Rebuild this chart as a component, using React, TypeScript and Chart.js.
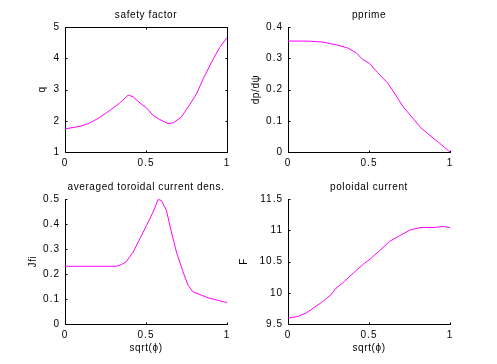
import React, { useEffect, useRef } from "react";
import { Chart, registerables } from "chart.js";

Chart.register(...registerables);

// ---------- data ----------
const qX = [0, 0.092, 0.154, 0.215, 0.277, 0.338, 0.39, 0.42, 0.451, 0.503, 0.544, 0.585, 0.636, 0.667, 0.718, 0.77, 0.81, 0.851, 0.913, 0.954, 1.0];
const qY = [1.74, 1.82, 1.93, 2.11, 2.33, 2.57, 2.82, 2.77, 2.62, 2.41, 2.17, 2.04, 1.91, 1.93, 2.12, 2.52, 2.84, 3.32, 3.96, 4.34, 4.66];

const ppX = [0, 0.121, 0.214, 0.307, 0.368, 0.42, 0.461, 0.502, 0.553, 0.615, 0.656, 0.708, 0.759, 0.821, 0.883, 0.934, 1.0];
const ppY = [0.355, 0.355, 0.352, 0.342, 0.333, 0.318, 0.296, 0.284, 0.254, 0.221, 0.189, 0.147, 0.115, 0.077, 0.05, 0.029, 0.0];

const jX = [0, 0.318, 0.349, 0.376, 0.421, 0.462, 0.503, 0.544, 0.575, 0.595, 0.626, 0.657, 0.688, 0.729, 0.76, 0.79, 0.832, 0.883, 0.955, 1.0];
const jY = [0.231, 0.231, 0.238, 0.248, 0.288, 0.341, 0.394, 0.448, 0.498, 0.494, 0.454, 0.368, 0.288, 0.208, 0.155, 0.129, 0.118, 0.105, 0.093, 0.086];

const fX = [0, 0.06, 0.111, 0.163, 0.214, 0.265, 0.296, 0.348, 0.409, 0.471, 0.512, 0.564, 0.626, 0.687, 0.759, 0.821, 0.903, 0.959, 1.0];
const fY = [9.596, 9.62, 9.675, 9.765, 9.86, 9.967, 10.07, 10.18, 10.33, 10.47, 10.55, 10.67, 10.82, 10.91, 11.01, 11.045, 11.045, 11.06, 11.045];

const titles = ["safety factor", "pprime", "averaged toroidal current dens.", "poloidal current"];
const yLabels = ["q", "dp/dψ", "Jfi", "F"];
const xLabel = "sqrt(ϕ)";

// ---------- layout ----------
const FONT = '"Liberation Sans", Arial, sans-serif';
const Y_W = 34;
const X_H = 20;
const TICK = 2;

type Panel = {
  cx: number; cy: number; cw: number; ch: number;
  l: number; t: number; r: number; b: number;
  title: string; ylabel: string; ylabelDx: number; xlabel: string | null;
  xs: number[]; ys: number[];
  yMin: number; yMax: number; yStep: number;
  box: boolean;
};

const panels: Panel[] = [
  { cx: 0, cy: 0, cw: 248, ch: 182, l: 65, t: 27, r: 227, b: 152, title: titles[0], ylabel: yLabels[0], ylabelDx: -22.5, xlabel: null, xs: qX, ys: qY, yMin: 1, yMax: 5, yStep: 1, box: true },
  { cx: 236, cy: 0, cw: 261, ch: 182, l: 288, t: 27, r: 450, b: 152, title: titles[1], ylabel: yLabels[1], ylabelDx: -31.5, xlabel: null, xs: ppX, ys: ppY, yMin: 0, yMax: 0.4, yStep: 0.1, box: false },
  { cx: 0, cy: 182, cw: 248, ch: 182, l: 65, t: 199, r: 227, b: 324, title: titles[2], ylabel: yLabels[2], ylabelDx: -32, xlabel: xLabel, xs: jX, ys: jY, yMin: 0, yMax: 0.5, yStep: 0.1, box: false },
  { cx: 236, cy: 182, cw: 261, ch: 182, l: 288, t: 199, r: 450, b: 324, title: titles[3], ylabel: yLabels[3], ylabelDx: -43.5, xlabel: xLabel, xs: fX, ys: fY, yMin: 9.5, yMax: 11.5, yStep: 0.5, box: false },
];

const fmt = (v: number | string) => String(Number(Number(v).toFixed(3)));

function decorPlugin(p: Panel) {
  return {
    id: "decor",
    beforeDraw(chart: any) {
      chart.ctx.letterSpacing = "1px";
    },
    afterDraw(chart: any) {
      const ctx = chart.ctx as CanvasRenderingContext2D & { letterSpacing: string };
      const a = chart.chartArea;
      const sx = chart.scales.x;
      const sy = chart.scales.y;
      ctx.save();
      ctx.strokeStyle = "#000";
      ctx.lineWidth = 1;
      ctx.beginPath();
      const L = a.left + 0.5, R = a.right + 0.5, T = a.top + 0.5, B = a.bottom + 0.5;
      if (p.box) {
        ctx.moveTo(L, T); ctx.lineTo(R, T);
        ctx.moveTo(R, T); ctx.lineTo(R, B);
      }
      for (const tk of sx.ticks) {
        const px = Math.round(sx.getPixelForValue(tk.value)) + 0.5;
        ctx.moveTo(px, B); ctx.lineTo(px, B - TICK);
        if (p.box) { ctx.moveTo(px, T); ctx.lineTo(px, T + TICK); }
      }
      for (const tk of sy.ticks) {
        const py = Math.round(sy.getPixelForValue(tk.value)) + 0.5;
        ctx.moveTo(L, py); ctx.lineTo(L + TICK, py);
        if (p.box) { ctx.moveTo(R, py); ctx.lineTo(R - TICK, py); }
      }
      ctx.stroke();

      ctx.fillStyle = "#000";
      ctx.font = `10px ${FONT}`;
      ctx.letterSpacing = "0.6px";
      ctx.textAlign = "center";
      ctx.textBaseline = "middle";
      const cxm = (a.left + a.right) / 2;
      ctx.fillText(p.title, cxm, a.top - 11.5);
      if (p.xlabel) ctx.fillText(p.xlabel, cxm, a.bottom + 24);
      ctx.translate(a.left + p.ylabelDx, (a.top + a.bottom) / 2);
      ctx.rotate(-Math.PI / 2);
      ctx.fillText(p.ylabel, 0, 0);
      ctx.restore();
    },
  };
}

function PanelChart({ p }: { p: Panel }) {
  const ref = useRef<HTMLCanvasElement | null>(null);
  useEffect(() => {
    if (!ref.current) return;
    const chart = new Chart(ref.current, {
      type: "line",
      data: {
        datasets: [
          {
            data: p.xs.map((x, i) => ({ x, y: p.ys[i] })),
            borderColor: "#ff00ff",
            borderWidth: 1,
            pointRadius: 0,
            tension: 0,
            fill: false,
          },
        ],
      },
      options: {
        animation: false,
        responsive: false,
        devicePixelRatio: 1,
        layout: {
          padding: {
            left: p.l - p.cx - Y_W,
            top: p.t - p.cy,
            right: p.cx + p.cw - p.r,
            bottom: p.cy + p.ch - p.b - X_H,
          },
        },
        plugins: { legend: { display: false }, tooltip: { enabled: false }, title: { display: false } },
        scales: {
          x: {
            type: "linear",
            min: 0,
            max: 1,
            afterFit: (s: any) => { s.height = X_H; },
            ticks: { stepSize: 0.5, padding: 5, color: "#000", font: { family: FONT, size: 10 }, maxRotation: 0, autoSkip: false, callback: fmt },
            grid: { display: false, drawTicks: false },
            border: { display: true, color: "#000", width: 1 },
          },
          y: {
            type: "linear",
            min: p.yMin,
            max: p.yMax,
            afterFit: (s: any) => { s.width = Y_W; },
            ticks: { stepSize: p.yStep, padding: 5, color: "#000", font: { family: FONT, size: 10 }, autoSkip: false, callback: fmt },
            grid: { display: false, drawTicks: false },
            border: { display: true, color: "#000", width: 1 },
          },
        },
      } as any,
      plugins: [decorPlugin(p)],
    });
    return () => chart.destroy();
  }, [p]);
  return (
    <canvas
      ref={ref}
      width={p.cw}
      height={p.ch}
      style={{ position: "absolute", left: p.cx, top: p.cy, width: p.cw, height: p.ch }}
    />
  );
}

export default function App() {
  return (
    <div style={{ position: "fixed", left: 0, top: 0, width: 497, height: 364, background: "#fff", overflow: "hidden" }}>
      {panels.map((p, i) => (
        <PanelChart key={i} p={p} />
      ))}
    </div>
  );
}
